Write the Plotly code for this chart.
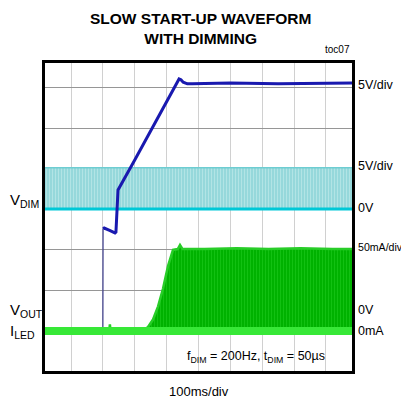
import plotly.graph_objects as go

# ---------------- data (time in ms, 100 ms/div) ----------------
T_MIN, T_MAX = -81.6, 881.6

# VOUT (V), 5 V/div
vout_t = [-81.6, 100.0, 100.6, 104.0, 121.0, 138.0, 141.0, 147.5, 200.0, 250.0, 300.0, 339.0, 345.0, 352.0, 365.0, 380.0, 500.0, 650.0, 881.6]
vout_v = [0.0,   0.0,   12.6,  12.7,  12.4,  12.1,  12.2,  17.4,  21.1,  24.7,  28.2,  31.1,  31.0,  30.7,  30.5,  30.5,  30.6,  30.5,  30.6]

# VDIM (V), 5 V/div, PWM 200 Hz
vdim_t = [T_MIN, T_MAX]
vdim_low = [0.0, 0.0]
vdim_high = [5.1, 5.1]

# ILED (mA), 50 mA/div, envelope of PWM current
iled_t = [T_MIN, 120.0, 122.0, 124.0, 225.9, 241.6, 257.3, 272.9, 288.6, 304.3, 320.0, 335.0, 342.0, 350.0, 420.0, 520.0, 620.0, 720.0, 820.0, T_MAX]
iled_ma = [0.0,  0.0,   8.0,   0.0,   0.0,   5.0,   14.0,  30.0,  52.0,  80.0,  100.0, 101.0, 106.0, 101.0, 101.0, 102.0, 101.0, 102.0, 101.0, 101.0]
iled_low_t = [T_MIN, T_MAX]
iled_low = [0.0, 0.0]

# channel scaling (divisions from bottom of screen)
VOUT_ZERO, VOUT_SCALE = 0.99, 5.0
VDIM_ZERO, VDIM_SCALE = 4.0, 5.0
ILED_ZERO, ILED_SCALE = 0.99, 50.0

def scr(vals, zero, scale):
    return [zero + v / scale for v in vals]

fig = go.Figure()

# VDIM
fig.add_trace(go.Scatter(x=vdim_t, y=scr(vdim_low, VDIM_ZERO, VDIM_SCALE), mode="lines",
                         line=dict(width=0, color="rgba(0,0,0,0)"), hoverinfo="skip"))
fig.add_trace(go.Scatter(x=vdim_t, y=scr(vdim_high, VDIM_ZERO, VDIM_SCALE), mode="lines",
                         line=dict(width=1.5, color="rgb(110,205,210)"), fill="tonexty",
                         fillcolor="rgb(158,221,223)",
                         fillpattern=dict(shape="|", size=3, solidity=0.35,
                                          fgcolor="rgb(205,240,240)", bgcolor="rgb(150,216,219)",
                                          fillmode="overlay"),
                         hoverinfo="skip"))
fig.add_trace(go.Scatter(x=vdim_t, y=scr(vdim_low, VDIM_ZERO, VDIM_SCALE), mode="lines",
                         line=dict(width=3, color="rgb(0,200,215)"), hoverinfo="skip"))

# VOUT: fast step edge (thin) then the rest
fig.add_trace(go.Scatter(x=vout_t[:3], y=scr(vout_v[:3], VOUT_ZERO, VOUT_SCALE), mode="lines",
                         line=dict(width=1.2, color="rgb(60,60,140)"), hoverinfo="skip"))
fig.add_trace(go.Scatter(x=vout_t[2:], y=scr(vout_v[2:], VOUT_ZERO, VOUT_SCALE), mode="lines",
                         line=dict(width=3, color="rgb(25,25,175)"), hoverinfo="skip"))

# ILED
fig.add_trace(go.Scatter(x=iled_low_t, y=scr(iled_low, ILED_ZERO, ILED_SCALE), mode="lines",
                         line=dict(width=0, color="rgba(0,0,0,0)"), hoverinfo="skip"))
fig.add_trace(go.Scatter(x=iled_t, y=scr(iled_ma, ILED_ZERO, ILED_SCALE), mode="lines",
                         line=dict(width=2.5, color="rgb(40,205,40)"), fill="tonexty",
                         fillcolor="rgb(0,185,0)",
                         fillpattern=dict(shape="|", size=3, solidity=0.3,
                                          fgcolor="rgb(40,210,40)", bgcolor="rgb(0,178,0)",
                                          fillmode="overlay"),
                         hoverinfo="skip"))
fig.add_trace(go.Scatter(x=iled_low_t, y=scr(iled_low, ILED_ZERO, ILED_SCALE), mode="lines",
                         line=dict(width=8, color="rgb(55,232,55)"), hoverinfo="skip"))

BASE = "Liberation Sans, Arial, sans-serif"
LBL = dict(family=BASE, size=12.5, color="black")

ann = []
right = [("5V/div", 7.06, 12.5), ("5V/div", 5.06, 12.5), ("0V", 4.02, 12.5),
         ("50mA/div", 3.06, 10.6), ("0V", 1.5, 12.5), ("0mA", 0.99, 12.5)]
for txt, yy, sz in right:
    ann.append(dict(text=txt, xref="paper", yref="y", x=1.012, y=yy, xanchor="left",
                    yanchor="middle", showarrow=False,
                    font=dict(family=BASE, size=sz, color="black")))
left = [("V<sub>DIM</sub>", 4.2), ("V<sub>OUT</sub>", 1.5), ("I<sub>LED</sub>", 0.97)]
for txt, yy in left:
    ann.append(dict(text=txt, xref="paper", yref="y", x=-0.12, y=yy, xanchor="left",
                    yanchor="middle", showarrow=False,
                    font=dict(family=BASE, size=15, color="black")))
ann.append(dict(text="f<sub>DIM</sub> = 200Hz, t<sub>DIM</sub> = 50µs", xref="paper", yref="paper",
                x=0.92, y=0.045, xanchor="right", yanchor="middle", showarrow=False, font=LBL))
ann.append(dict(text="100ms/div", xref="paper", yref="paper", x=0.5, y=-0.068,
                xanchor="center", yanchor="middle", showarrow=False,
                font=dict(family=BASE, size=13, color="black")))
ann.append(dict(text="toc07", xref="paper", yref="paper", x=1.0, y=1.02,
                xanchor="right", yanchor="bottom", showarrow=False,
                font=dict(family=BASE, size=10, color="black")))
ann.append(dict(text="<b>SLOW START-UP WAVEFORM<br>WITH DIMMING</b>", xref="paper", yref="paper",
                x=0.505, y=1.0 + 34 / 308, xanchor="center", yanchor="middle", showarrow=False,
                font=dict(family=BASE, size=15.5, color="black")))

# page body has an 8px margin: figure is 401x392 so plot box sits at x 45-352, y 63-371
fig.update_layout(
    width=401, height=392,
    margin=dict(l=37, r=57, t=55, b=29),
    paper_bgcolor="white", plot_bgcolor="white",
    showlegend=False,
    annotations=ann,
    xaxis=dict(range=[T_MIN, T_MAX], tick0=0, dtick=100, showticklabels=False, ticks="",
               showgrid=True, gridcolor="rgb(208,208,208)", gridwidth=1, zeroline=False,
               showline=True, mirror=True, linecolor="black", linewidth=3, fixedrange=True),
    yaxis=dict(range=[0, 7.605], tick0=0, dtick=1, showticklabels=False, ticks="",
               showgrid=True, gridcolor="rgb(150,150,150)", gridwidth=1, zeroline=False,
               showline=True, mirror=True, linecolor="black", linewidth=3, fixedrange=True),
)

fig.write_html("out.html")
